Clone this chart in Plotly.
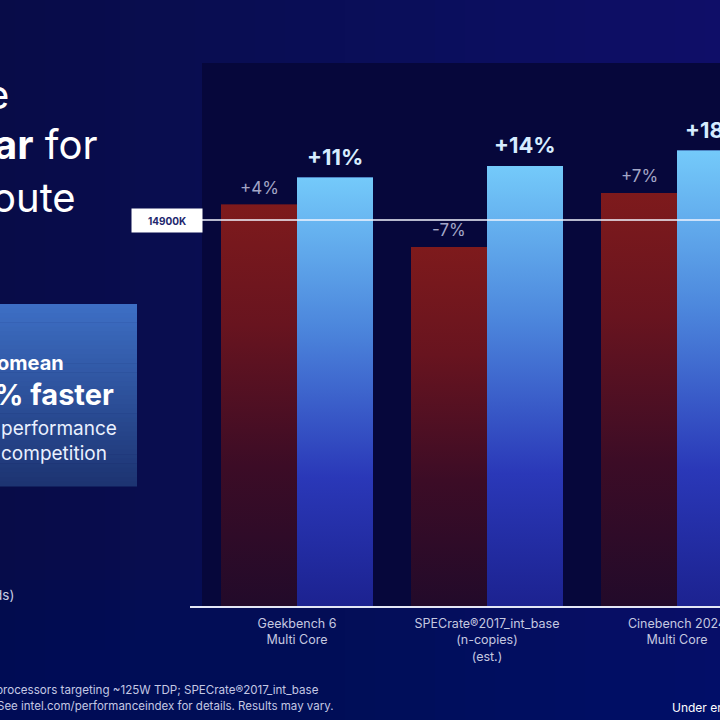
import plotly.graph_objects as go

# ---- data ----
categories = ["Geekbench 6<br>Multi Core",
              "SPECrate®2017_int_base<br>(n-copies)<br>(est.)",
              "Cinebench 2024<br>Multi Core"]
competitor = [1.04, 0.93, 1.07]          # relative to 14900K
intel_new = [1.11, 1.14, 1.18]
competitor_labels = ["+4%", "-7%", "+7%"]
intel_labels = ["+11%", "+14%", "+18%"]
reference_value = 1.0
reference_name = "14900K"

# ---- layout geometry helpers (figure pixels -> paper) ----
W, H = 720, 720
ML, MR, MT, MB = 190, 0, 0, 114
PW, PH = W - ML - MR, H - MT - MB


def xp(px):
    return (px - ML) / PW


def yp(py):
    return (H - MB - py) / PH


def hex2rgb(h):
    h = h.lstrip("#")
    return tuple(int(h[i:i + 2], 16) for i in (0, 2, 4))


def mix(c1, c2, t):
    a, b = hex2rgb(c1), hex2rgb(c2)
    return "rgb(%d,%d,%d)" % tuple(round(a[k] + (b[k] - a[k]) * t) for k in range(3))


idx = list(range(len(categories)))
BW = 0.4

fig = go.Figure()

# bars (base, covered by gradient overlays)
fig.add_trace(go.Bar(x=idx, y=competitor, width=BW, offset=-BW,
                     marker=dict(color="#4a1024", line=dict(width=0)),
                     name="Competitor", showlegend=False))
fig.add_trace(go.Bar(x=idx, y=intel_new, width=BW, offset=0,
                     marker=dict(color="#4a7ade", line=dict(width=0)),
                     name="Intel", showlegend=False))

red_scale = [[0, "#220a2a"], [0.35, "#3c0c26"], [0.7, "#68141f"], [1, "#7e1a1c"]]
blue_scale = [[0, "#1c2290"], [0.3, "#2a38b8"], [0.65, "#4c86dc"], [1, "#74cafa"]]

for i, v in zip(idx, competitor):
    fig.add_trace(go.Scatter(x=[i - BW, i - BW, i, i, i - BW], y=[0, v, v, 0, 0],
                             mode="none", fill="toself",
                             fillgradient=dict(type="vertical", colorscale=red_scale),
                             hoverinfo="skip", showlegend=False))
for i, v in zip(idx, intel_new):
    fig.add_trace(go.Scatter(x=[i, i, i + BW, i + BW, i], y=[0, v, v, 0, 0],
                             mode="none", fill="toself",
                             fillgradient=dict(type="vertical", colorscale=blue_scale),
                             hoverinfo="skip", showlegend=False))

annotations = []
for i, v, t in zip(idx, competitor, competitor_labels):
    annotations.append(dict(x=i - BW / 2, y=v, xref="x", yref="y", text=t,
                            showarrow=False, xanchor="center", yanchor="bottom", yshift=5,
                            font=dict(family="Inter", size=17, color="#a3a6c6")))
for i, v, t in zip(idx, intel_new, intel_labels):
    annotations.append(dict(x=i + BW / 2, y=v, xref="x", yref="y", text="<b>" + t + "</b>",
                            showarrow=False, xanchor="center", yanchor="bottom", yshift=6,
                            font=dict(family="Inter", size=22, color="#d6ecff")))

# reference label
annotations.append(dict(x=xp(167), y=reference_value, xref="paper", yref="y",
                        text="<b>" + reference_name + "</b>", showarrow=False,
                        xanchor="center", yanchor="middle",
                        width=66, height=19, bgcolor="#ffffff", borderpad=2,
                        font=dict(family="Inter", size=10, color="#23276e")))

# left slide text (cropped)
big = dict(family="Inter", size=40, color="#ffffff")
annotations += [
    dict(x=xp(11), y=yp(95), xref="paper", yref="paper", text="e",
         showarrow=False, xanchor="right", yanchor="middle", font=big),
    dict(x=xp(99), y=yp(145), xref="paper", yref="paper", text="<b>ar</b> for",
         showarrow=False, xanchor="right", yanchor="middle", font=big),
    dict(x=xp(78), y=yp(197), xref="paper", yref="paper", text="oute",
         showarrow=False, xanchor="right", yanchor="middle", font=big),
    dict(x=xp(66), y=yp(363), xref="paper", yref="paper", text="<b>omean</b>",
         showarrow=False, xanchor="right", yanchor="middle",
         font=dict(family="Inter", size=20, color="#ffffff")),
    dict(x=xp(116), y=yp(394), xref="paper", yref="paper", text="<b>% faster</b>",
         showarrow=False, xanchor="right", yanchor="middle",
         font=dict(family="Inter", size=29, color="#ffffff")),
    dict(x=xp(119), y=yp(428), xref="paper", yref="paper", text="performance",
         showarrow=False, xanchor="right", yanchor="middle",
         font=dict(family="Inter", size=19, color="#eaf1ff")),
    dict(x=xp(109), y=yp(453), xref="paper", yref="paper", text="competition",
         showarrow=False, xanchor="right", yanchor="middle",
         font=dict(family="Inter", size=19, color="#eaf1ff")),
    dict(x=xp(16), y=yp(595), xref="paper", yref="paper", text="ds)",
         showarrow=False, xanchor="right", yanchor="middle",
         font=dict(family="Inter", size=13.5, color="#c8cbe2")),
    dict(x=xp(321), y=yp(690), xref="paper", yref="paper",
         text="processors targeting ~125W TDP; SPECrate®2017_int_base",
         showarrow=False, xanchor="right", yanchor="middle",
         font=dict(family="Inter", size=11.6, color="#c4c8e4")),
    dict(x=xp(336), y=yp(706), xref="paper", yref="paper",
         text="See intel.com/performanceindex for details. Results may vary.",
         showarrow=False, xanchor="right", yanchor="middle",
         font=dict(family="Inter", size=11.5, color="#c4c8e4")),
    dict(x=xp(670), y=yp(707), xref="paper", yref="paper", text="Under engineering",
         showarrow=False, xanchor="left", yanchor="middle",
         font=dict(family="Inter", size=12, color="#ffffff")),
]

shapes = []
# background: smooth horizontal gradient (left darker, right more violet)
NB = 48
for k in range(NB):
    t = k / (NB - 1)
    c = mix("#080c48", "#0a0e5c", min(1, t * 1.6)) if t < 0.6 else mix("#0a0e5c", "#0f0e68", (t - 0.6) / 0.4)
    shapes.append(dict(type="rect", xref="paper", yref="paper", layer="below",
                       x0=xp(k * W / NB), x1=xp(min(W, (k + 1) * W / NB + 1)),
                       y0=yp(H), y1=yp(0), fillcolor=c, line=dict(width=0)))
# soft lighter glow near the bottom
NG = 16
for k in range(NG):
    y_top = 560 + k * (H - 560) / NG
    shapes.append(dict(type="rect", xref="paper", yref="paper", layer="below",
                       x0=xp(0), x1=1.0, y0=yp(H), y1=yp(y_top),
                       fillcolor="rgba(40,60,170,0.012)", line=dict(width=0)))
# dark chart panel
shapes.append(dict(type="rect", xref="paper", yref="paper", layer="below",
                   x0=xp(202), x1=1.0, y0=0, y1=yp(63),
                   fillcolor="#06073b", line=dict(width=0)))
# left callout box (smooth vertical gradient)
top, bot = 304, 486
NBX = 40
step = (bot - top) / NBX
for k in range(NBX):
    c = mix("#3d6ec4", "#1d3472", k / (NBX - 1))
    shapes.append(dict(type="rect", xref="paper", yref="paper", layer="below",
                       x0=xp(0), x1=xp(137), y0=yp(top + (k + 1) * step + 0.6),
                       y1=yp(top + k * step), fillcolor=c, line=dict(width=0)))
# reference line
shapes.append(dict(type="line", xref="paper", yref="y", x0=xp(202), x1=1.0,
                   y0=reference_value, y1=reference_value,
                   line=dict(color="#f2f4ff", width=1.5), layer="above"))

fig.update_layout(
    width=W, height=H,
    margin=dict(l=ML, r=MR, t=MT, b=MB, autoexpand=False),
    paper_bgcolor="#0b0e56",
    plot_bgcolor="rgba(0,0,0,0)",
    barmode="overlay",
    showlegend=False,
    xaxis=dict(range=[(ML - 297) / 190, (W - 297) / 190],
               tickvals=idx, ticktext=categories, automargin=False,
               showgrid=False, zeroline=False,
               showline=True, linecolor="#e4e7f6", linewidth=2,
               ticks="", ticklabelstandoff=5, ticklabeloverflow="allow",
               tickfont=dict(family="Inter", size=12.5, color="#c5c8e0")),
    yaxis=dict(range=[0, PH / 386], showgrid=False, zeroline=False, automargin=False,
               showticklabels=False, showline=False),
    annotations=annotations,
    shapes=shapes,
)

fig.write_html("out.html")
